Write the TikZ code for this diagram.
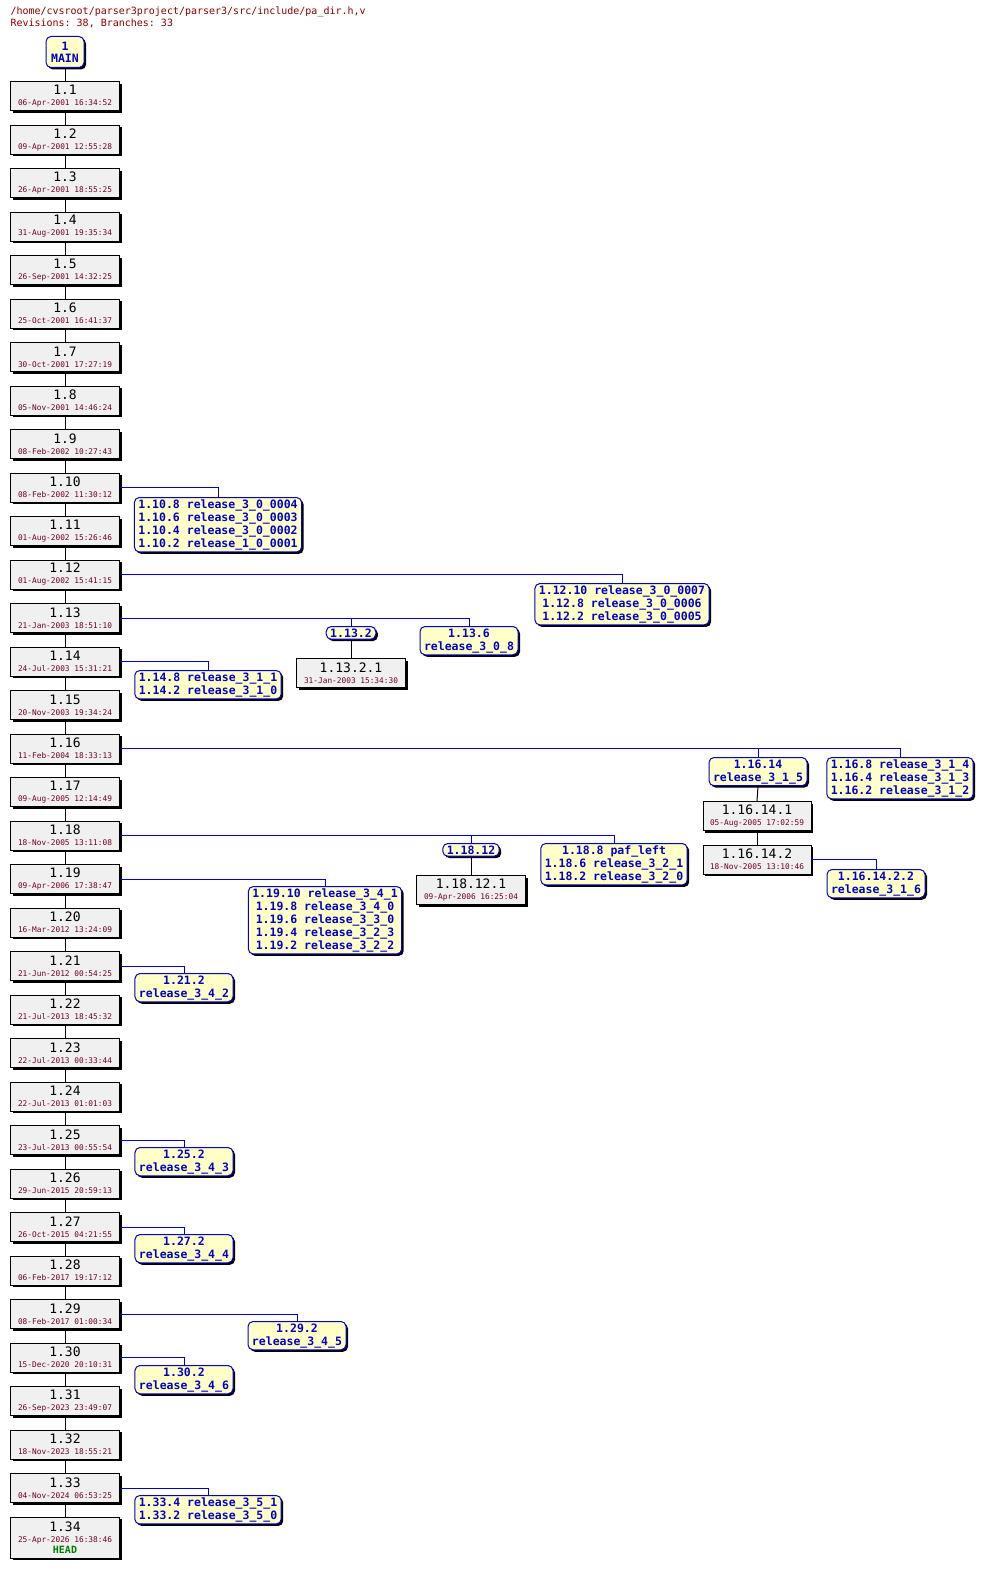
\documentclass[tikz,border=0pt]{standalone}
\usepackage{fontspec}
\setmonofont{DejaVu Sans Mono}
\usetikzlibrary{shadows}
\definecolor{revfill}{HTML}{F0F0F0}
\definecolor{tagfill}{HTML}{FFFFC8}
\definecolor{tagblue}{HTML}{0000C8}
\definecolor{datecol}{HTML}{700020}
\definecolor{headcol}{HTML}{8B0000}
\definecolor{headgreen}{HTML}{008000}
\newcommand\revtext[2]{{\fontsize{13}{13}\selectfont #1}\\[-1pt]{\fontsize{7.8}{8}\selectfont\color{datecol}#2}}

\tikzset{
  shad/.style={drop shadow={shadow xshift=2pt, shadow yshift=-2pt, fill=black, opacity=1}},
  rev/.style={draw, fill=revfill, shad, minimum width=109pt, minimum height=29pt,
    inner sep=0pt, align=center, font=\ttfamily},
  tag/.style={draw=tagblue, fill=tagfill, shad, rounded corners=5pt, text=tagblue,
    align=center, inner xsep=4pt, inner ysep=2pt, anchor=north,
    font=\ttfamily\bfseries\fontsize{11.5}{13}\selectfont},
  br/.style={draw=tagblue},
}

\begin{document}
\begin{tikzpicture}[x=1pt,y=-1pt,line width=1pt]
\useasboundingbox (0,0) rectangle (996,1587);

% header
\node[anchor=north west, inner sep=0pt, align=left, text=headcol,
  font=\ttfamily\fontsize{10}{12}\selectfont] (head) at (10,6)
  {/home/cvsroot/parser3project/parser3/src/include/pa\_dir.h,v\\Revisions: 38, Branches: 33};

% trunk
\node[tag, minimum width=38pt, minimum height=31pt, inner ysep=0pt,
  font=\ttfamily\bfseries\fontsize{11.5}{12}\selectfont] (main) at (65,36) {1\\MAIN};
\foreach \i/\d in {1/06-Apr-2001 16:34:52, 2/09-Apr-2001 12:55:28, 3/26-Apr-2001 18:55:25,
  4/31-Aug-2001 19:35:34, 5/26-Sep-2001 14:32:25, 6/25-Oct-2001 16:41:37, 7/30-Oct-2001 17:27:19,
  8/05-Nov-2001 14:46:24, 9/08-Feb-2002 10:27:43, 10/08-Feb-2002 11:30:12, 11/01-Aug-2002 15:26:46,
  12/01-Aug-2002 15:41:15, 13/21-Jan-2003 18:51:10, 14/24-Jul-2003 15:31:21, 15/20-Nov-2003 19:34:24,
  16/11-Feb-2004 18:33:13, 17/09-Aug-2005 12:14:49, 18/18-Nov-2005 13:11:08, 19/09-Apr-2006 17:38:47,
  20/16-Mar-2012 13:24:09, 21/21-Jun-2012 00:54:25, 22/21-Jul-2013 18:45:32, 23/22-Jul-2013 00:33:44,
  24/22-Jul-2013 01:01:03, 25/23-Jul-2013 00:55:54, 26/29-Jun-2015 20:59:13, 27/26-Oct-2015 04:21:55,
  28/06-Feb-2017 19:17:12, 29/08-Feb-2017 01:00:34, 30/15-Dec-2020 20:10:31, 31/26-Sep-2023 23:49:07,
  32/18-Nov-2023 18:55:21, 33/04-Nov-2024 06:53:25}
  \node[rev] (r\i) at (65,{96+43.5*(\i-1)}) {\revtext{1.\i}{\d}};
\node[rev, minimum height=41pt] (r34) at (65,1537.5)
  {\revtext{1.34}{25-Apr-2026 16:38:46}\\[-1pt]{\bfseries\fontsize{10}{10}\selectfont\color{headgreen}HEAD}};
\draw (main) -- (r1);
\foreach \i [remember=\i as \j (initially 1)] in {2,...,34}
  \draw (r\j.south) -- (r\i.north);

% branches
\node[tag] (t10) at (218,497) {1.10.8 release\_3\_0\_0004\\1.10.6 release\_3\_0\_0003\\1.10.4 release\_3\_0\_0002\\1.10.2 release\_1\_0\_0001};
\draw[br] (r10.east) -| (t10.north);
\node[tag] (t12) at (622,583) {1.12.10 release\_3\_0\_0007\\1.12.8 release\_3\_0\_0006\\1.12.2 release\_3\_0\_0005};
\draw[br] (r12.east) -| (t12.north);

\node[tag] (t13a) at (351,626) {1.13.2};
\node[tag] (t13b) at (469,626) {1.13.6\\release\_3\_0\_8};
\node[rev] (r13x) at (351,673) {\revtext{1.13.2.1}{31-Jan-2003 15:34:30}};
\draw[br] (r13.east) -| (t13b.north);
\draw[br] (t13a.north) -- (t13a.north |- r13.east);
\draw (t13a.south) -- (r13x.north);

\node[tag] (t14) at (208,670) {1.14.8 release\_3\_1\_1\\1.14.2 release\_3\_1\_0};
\draw[br] (r14.east) -| (t14.north);

\node[tag] (t16a) at (758,757) {1.16.14\\release\_3\_1\_5};
\node[tag] (t16b) at (900,757) {1.16.8 release\_3\_1\_4\\1.16.4 release\_3\_1\_3\\1.16.2 release\_3\_1\_2};
\node[rev, minimum width=108pt] (r16x) at (757,816) {\revtext{1.16.14.1}{05-Aug-2005 17:02:59}};
\node[rev, minimum width=108pt] (r16y) at (757,859.5) {\revtext{1.16.14.2}{18-Nov-2005 13:10:46}};
\node[tag] (t16c) at (876,869) {1.16.14.2.2\\release\_3\_1\_6};
\draw[br] (r16.east) -| (t16b.north);
\draw[br] (t16a.north) -- (t16a.north |- r16.east);
\draw (t16a.south) -- (r16x.north);
\draw (r16x.south) -- (r16y.north);
\draw[br] (r16y.east) -| (t16c.north);

\node[tag] (t18a) at (471,843) {1.18.12};
\node[tag] (t18b) at (614,843) {1.18.8 paf\_left\\1.18.6 release\_3\_2\_1\\1.18.2 release\_3\_2\_0};
\node[rev] (r18x) at (471,890) {\revtext{1.18.12.1}{09-Apr-2006 16:25:04}};
\draw[br] (r18.east) -| (t18b.north);
\draw[br] (t18a.north) -- (t18a.north |- r18.east);
\draw (t18a.south) -- (r18x.north);

\node[tag] (t19) at (325,886) {1.19.10 release\_3\_4\_1\\1.19.8 release\_3\_4\_0\\1.19.6 release\_3\_3\_0\\1.19.4 release\_3\_2\_3\\1.19.2 release\_3\_2\_2};
\draw[br] (r19.east) -| (t19.north);
\node[tag] (t21) at (184,973) {1.21.2\\release\_3\_4\_2};
\draw[br] (r21.east) -| (t21.north);
\node[tag] (t25) at (184,1147) {1.25.2\\release\_3\_4\_3};
\draw[br] (r25.east) -| (t25.north);
\node[tag] (t27) at (184,1234) {1.27.2\\release\_3\_4\_4};
\draw[br] (r27.east) -| (t27.north);
\node[tag] (t29) at (297,1321) {1.29.2\\release\_3\_4\_5};
\draw[br] (r29.east) -| (t29.north);
\node[tag] (t30) at (184,1365) {1.30.2\\release\_3\_4\_6};
\draw[br] (r30.east) -| (t30.north);
\node[tag] (t33) at (208,1495) {1.33.4 release\_3\_5\_1\\1.33.2 release\_3\_5\_0};
\draw[br] (r33.east) -| (t33.north);

\end{tikzpicture}
\end{document}
